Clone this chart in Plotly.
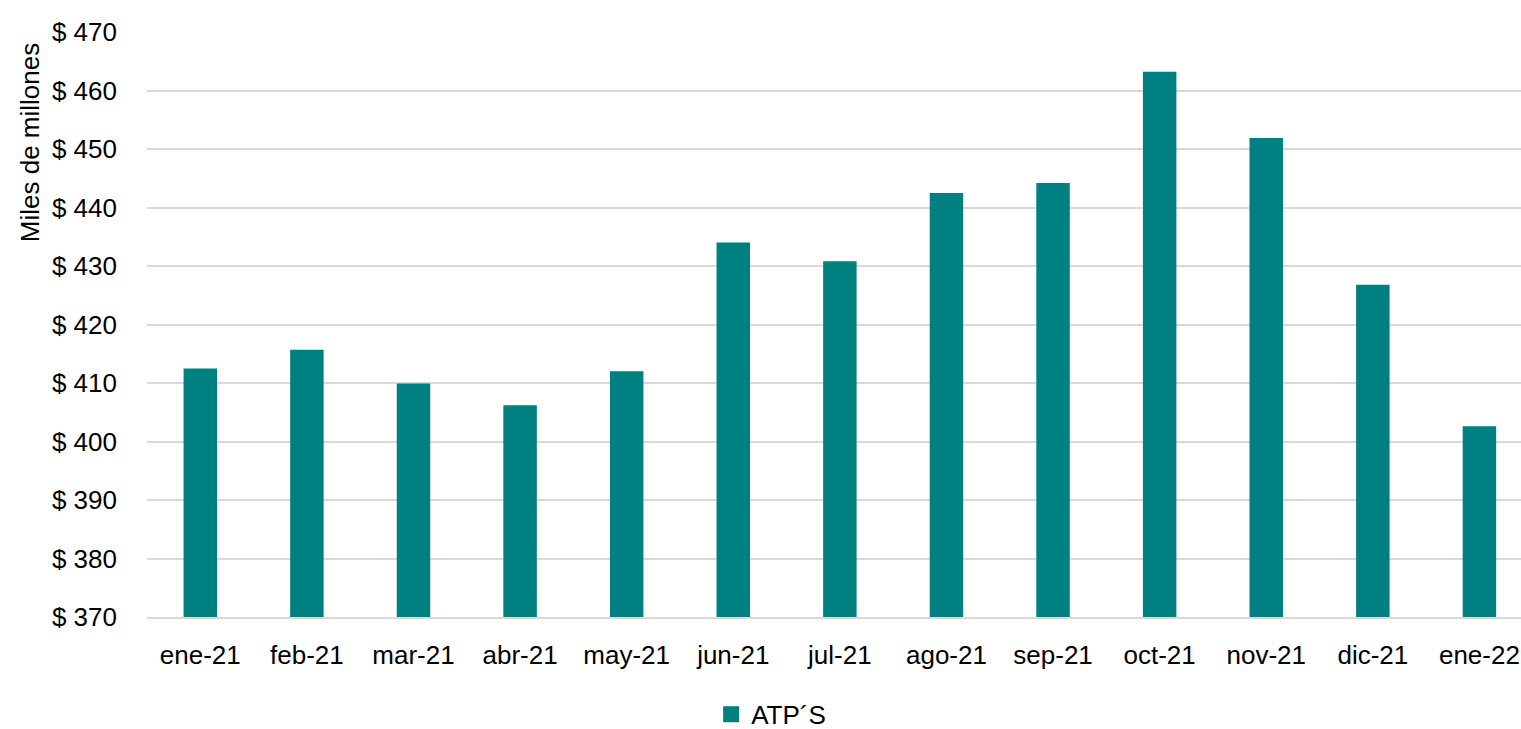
import plotly.graph_objects as go

categories = ["ene-21", "feb-21", "mar-21", "abr-21", "may-21", "jun-21", "jul-21",
              "ago-21", "sep-21", "oct-21", "nov-21", "dic-21", "ene-22"]
values = [412.5, 415.7, 409.9, 406.2, 412.0, 434.0, 430.8,
          442.5, 444.2, 463.2, 451.9, 426.8, 402.6]
y_ticks = [370, 380, 390, 400, 410, 420, 430, 440, 450, 460, 470]
y_tick_labels = ["$ %d" % v for v in y_ticks]
series_name = "ATP´S"
y_title = "Miles de millones"

COLOR = "#008080"
FONT = "Liberation Sans, Arial, sans-serif"
FS = 26

fig = go.Figure()
fig.add_trace(go.Bar(x=categories, y=values, name=series_name,
                     marker=dict(color=COLOR, line=dict(width=0)),
                     showlegend=False))
# legend proxy (square swatch)
fig.add_trace(go.Scatter(x=[None], y=[None], mode="markers", name=series_name,
                         marker=dict(symbol="square", size=17, color=COLOR),
                         showlegend=True, hoverinfo="skip"))

fig.update_layout(
    width=1521, height=729,
    margin=dict(l=147, r=0, t=32, b=112),
    paper_bgcolor="white", plot_bgcolor="white",
    font=dict(family=FONT, size=FS, color="#000000"),
    bargap=0.686,
    showlegend=True,
    legend=dict(orientation="h", xref="container", yref="container",
                x=0.507, xanchor="center", y=0.02, yanchor="middle",
                font=dict(family=FONT, size=FS, color="#000000"),
                itemwidth=30, bgcolor="rgba(0,0,0,0)"),
    xaxis=dict(range=[-0.5, 12.39], showgrid=False, showline=True,
               linecolor="#d9d9d9", linewidth=2,
               ticks="", tickfont=dict(family=FONT, size=FS), ticklabelstandoff=14),
    yaxis=dict(range=[370, 470], tickvals=y_ticks, ticktext=y_tick_labels,
               showgrid=True, gridcolor="#d9d9d9", gridwidth=2, zeroline=False,
               showline=False, ticks="", tickfont=dict(family=FONT, size=FS),
               ticklabelstandoff=29),
    annotations=[dict(text=y_title, textangle=-90, xref="paper", yref="paper",
                      x=-0.0852, y=0.985, xanchor="center", yanchor="top", showarrow=False,
                      font=dict(family=FONT, size=FS, color="#000000"))],
)

fig.write_html("out.html", config={"displayModeBar": False},
               post_script="document.body.style.margin='0';")
